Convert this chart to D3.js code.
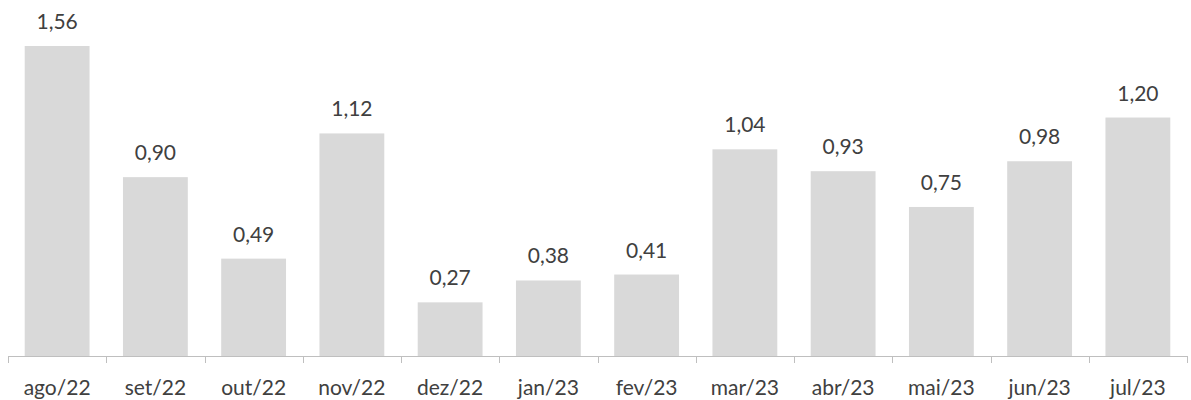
<!DOCTYPE html>
<html>
<head>
<meta charset="utf-8">
<script src="https://cdn.jsdelivr.net/npm/d3@7"></script>
<style>
  body { margin: 0; background: #fff; }
  text { font-family: Lato, "Open Sans", sans-serif; fill: #404040; }
</style>
</head>
<body>
<div id="chart"></div>
<script>
// monthly values
var months = ["ago/22", "set/22", "out/22", "nov/22", "dez/22", "jan/23",
              "fev/23", "mar/23", "abr/23", "mai/23", "jun/23", "jul/23"];
var values = [1.56, 0.90, 0.49, 1.12, 0.27, 0.38, 0.41, 1.04, 0.93, 0.75, 0.98, 1.20];

var width = 1191, height = 400;
var plotLeft = 8, plotRight = 1187, baseY = 356, topY = 46;

var svg = d3.select("#chart")
    .append("svg")
        .attr("width", width)
        .attr("height", height);

var x = d3.scaleBand().domain(months).range([plotLeft, plotRight]).paddingInner(0.34).paddingOuter(0.17);
var y = d3.scaleLinear().domain([0, d3.max(values)]).range([baseY, topY]);

var fmt = function(v) { return d3.format(".2f")(v).replace(".", ","); };

// bars
svg.selectAll("rect.bar")
    .data(values)
    .join("rect")
        .attr("class", "bar")
        .attr("x", function(d, i) { return x(months[i]); })
        .attr("y", function(d) { return y(d); })
        .attr("width", x.bandwidth())
        .attr("height", function(d) { return baseY - y(d); })
        .attr("fill", "#d9d9d9");

// value labels
svg.selectAll("text.val")
    .data(values)
    .join("text")
        .attr("class", "val")
        .attr("x", function(d, i) { return x(months[i]) + x.bandwidth() / 2; })
        .attr("y", function(d) { return y(d) - 17; })
        .attr("text-anchor", "middle")
        .style("font-size", "21px")
        .text(fmt);

// axis line with tick marks between categories
var ticks = d3.range(months.length + 1).map(function(i) { return plotLeft + i * (plotRight - plotLeft) / months.length; });
svg.append("line")
    .attr("x1", plotLeft).attr("x2", plotRight)
    .attr("y1", baseY + 0.5).attr("y2", baseY + 0.5)
    .attr("stroke", "#bfbfbf").attr("stroke-width", 1);
svg.selectAll("line.tick")
    .data(ticks)
    .join("line")
        .attr("class", "tick")
        .attr("x1", function(d) { return Math.round(d) + 0.5; })
        .attr("x2", function(d) { return Math.round(d) + 0.5; })
        .attr("y1", baseY).attr("y2", baseY + 7)
        .attr("stroke", "#bfbfbf");

// category labels
svg.selectAll("text.cat")
    .data(months)
    .join("text")
        .attr("class", "cat")
        .attr("x", function(d) { return x(d) + x.bandwidth() / 2; })
        .attr("y", 395)
        .attr("text-anchor", "middle")
        .style("font-size", "21px")
        .text(function(d) { return d; });
</script>
</body>
</html>
